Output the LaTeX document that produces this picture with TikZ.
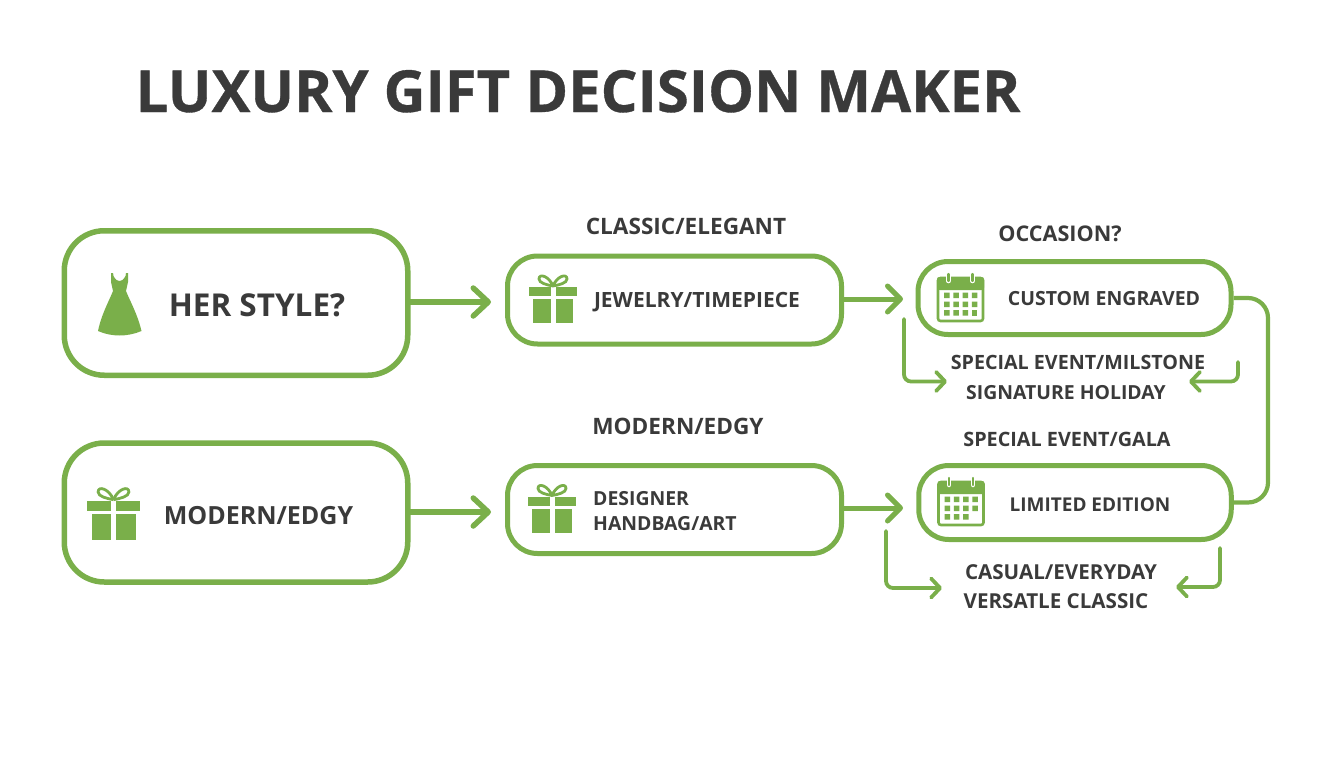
\documentclass[tikz,border=0pt]{standalone}
\usepackage{fontspec}
\setmainfont{Open Sans}
\usetikzlibrary{arrows.meta}
\definecolor{leaf}{HTML}{7AAF4A}
\definecolor{ink}{HTML}{3A3A3A}
\tikzset{
  boxbig/.style={draw=leaf, line width=5.5pt, fill=white, rounded corners=40pt, inner sep=0pt},
  boxsmall/.style={draw=leaf, line width=5pt, fill=white, rounded corners=30pt, inner sep=0pt},
  txt/.style={text=ink, inner sep=0pt, anchor=base, font=\bfseries\fontsize{#1}{#1}\selectfont},
  flowbig/.style={draw=leaf, line width=5.5pt, line cap=round, -{Straight Barb[length=15pt,width=28pt,line width=5.5pt,round]}},
  flowmid/.style={draw=leaf, line width=5pt, line cap=round, -{Straight Barb[length=13pt,width=26pt,line width=5pt,round]}},
  flowsmall/.style={draw=leaf, line width=3.8pt, line cap=round, rounded corners=7pt, -{Straight Barb[length=9pt,width=19pt,line width=3.8pt,round]}},
  pics/dresspic/.style={code={
    \fill[leaf] (-8.5,-31) -- (-6.5,-31) -- (-6,-28) .. controls (-4,-24) and (-2,-23) .. (0,-23)
      .. controls (2,-23) and (4,-24) .. (6,-28) -- (6.5,-31) -- (8.5,-31) -- (8.5,-22) -- (6.5,-13)
      .. controls (10,-4) and (18,10) .. (22,27) .. controls (8,33) and (-8,33) .. (-21.5,27)
      .. controls (-18,10) and (-10,-4) .. (-6.5,-13) -- (-8.5,-22) -- cycle;
  }},
  pics/giftpic/.style={code={
    \fill[leaf] (-24,-12) rectangle (-2.5,-3);
    \fill[leaf] (2.5,-12) rectangle (24,-3);
    \fill[leaf] (-20,0) rectangle (-2.5,24);
    \fill[leaf] (2.5,0) rectangle (20,24);
    \draw[leaf, line width=2.8pt] (0,-13) .. controls (-4,-23) and (-14,-26) .. (-14,-20) .. controls (-14,-16) and (-6,-14) .. (0,-13);
    \draw[leaf, line width=2.8pt] (0,-13) .. controls (4,-23) and (14,-26) .. (14,-20) .. controls (14,-16) and (6,-14) .. (0,-13);
  }},
  pics/calpic/.style={code={
    \draw[leaf, line width=2.6pt, rounded corners=2.5pt] (-22.5,-21) rectangle (22.5,22);
    \fill[leaf, rounded corners=2.5pt] (-23.5,-22) rectangle (23.5,-9);
    \draw[white, line width=4.5pt, line cap=round] (-12,-24) -- (-12,-18);
    \draw[white, line width=4.5pt, line cap=round] (12,-24) -- (12,-18);
    \draw[leaf, line width=2.2pt, line cap=round] (-12,-25) -- (-12,-18);
    \draw[leaf, line width=2.2pt, line cap=round] (12,-25) -- (12,-18);
    \fill[leaf] (-16.5,-6.3) rectangle +(5.5,5.5) (-7.2,-6.3) rectangle +(5.5,5.5) (2.1,-6.3) rectangle +(5.5,5.5) (11.4,-6.3) rectangle +(5.5,5.5);
    \fill[leaf] (-16.5,2.5) rectangle +(5.5,5.5) (-7.2,2.5) rectangle +(5.5,5.5) (2.1,2.5) rectangle +(5.5,5.5) (11.4,2.5) rectangle +(5.5,5.5);
    \fill[leaf] (-16.5,11) rectangle +(5.5,5.5) (-7.2,11) rectangle +(5.5,5.5) (2.1,11) rectangle +(5.5,5.5);
  }},
}
\begin{document}
\begin{tikzpicture}[x=1pt,y=-1pt]
\useasboundingbox (0,0) rectangle (1344,768);
\node[txt=58] (title) at (578,112){\addfontfeature{FakeBold=0.6}LUXURY GIFT DECISION MAKER};

% boxes
\node[boxbig, minimum width=343.5pt, minimum height=144.5pt] (box0) at (236,303){};
\node[boxbig, minimum width=343.5pt, minimum height=139pt] (box1) at (236,512.5){};
\node[boxsmall, minimum width=334pt, minimum height=88pt] (box2) at (674.5,300){};
\node[boxsmall, minimum width=334pt, minimum height=88pt] (box3) at (674.5,509.5){};
\node[boxsmall, minimum width=313pt, minimum height=73pt] (box4) at (1074.5,298){};
\node[boxsmall, minimum width=312.5pt, minimum height=74pt] (box5) at (1075,502.5){};

% icons
\pic at (119.5,304) {dresspic};
\pic at (553,299) {giftpic};
\pic[scale=1.1] at (113.5,514) {giftpic};
\pic at (552,508.5) {giftpic};
\pic at (960.5,299) {calpic};
\fill[leaf] (971.9,310) rectangle +(5.5,5.5);
\pic at (961,503) {calpic};

% texts in boxes
\node[txt=31.5] (lab0) at (257,316){HER STYLE?};
\node[txt=25] (lab1) at (258.5,524){MODERN/EDGY};
\node[txt=21] (lab2) at (697,307.5){JEWELRY/TIMEPIECE};
\node[txt=19.4, anchor=west, align=left] (lab3) at (593,511){DESIGNER\\[5pt]HANDBAG/ART};
\node[txt=19.5] (lab4) at (1104,305){CUSTOM ENGRAVED};
\node[txt=19] (lab5) at (1090,511.5){LIMITED EDITION};

% texts outside boxes
\node[txt=22.6] (lab6) at (686,234){CLASSIC/ELEGANT};
\node[txt=22.6] (lab7) at (678,434){MODERN/EDGY};
\node[txt=21.6] (lab8) at (1060,241.5){OCCASION?};
\node[txt=19.7] (lab9) at (1078,369){SPECIAL EVENT/MILSTONE};
\node[txt=19.4] (lab10) at (1066,399){SIGNATURE HOLIDAY};
\node[txt=19.8] (lab11) at (1067,446){SPECIAL EVENT/GALA};
\node[txt=20.6] (lab12) at (1061,579){CASUAL/EVERYDAY};
\node[txt=20.6] (lab13) at (1056,608){VERSATLE CLASSIC};

% free ends
\coordinate (tip0) at (491,302);
\coordinate (tip1) at (491,512);
\coordinate (tip2) at (903,299);
\coordinate (tip3) at (903,508);
\coordinate (tip4) at (947,381.5);
\coordinate (tip5) at (1189,381.5);
\coordinate (tip6) at (942,588);
\coordinate (tip7) at (1176,587);
\coordinate (st4) at (904,319);
\coordinate (st5) at (1238,362);
\coordinate (st6) at (886,531);
\coordinate (st7) at (1220,548);
\coordinate (cor0) at (1268,298);
\coordinate (cor1) at (1268,502.5);

% connectors
\draw[flowbig](box0.east |- tip0) -- (tip0);
\draw[flowbig](box1.east |- tip1) -- (tip1);
\draw[flowmid](box2.east |- tip2) -- (tip2);
\draw[flowmid](box3.east |- tip3) -- (tip3);
\draw[flowsmall](st4) |- (tip4);
\draw[flowsmall](st5) |- (tip5);
\draw[flowsmall](st6) |- (tip6);
\draw[flowsmall](st7) |- (tip7);
\draw[draw=leaf, line width=4.2pt, rounded corners=20pt](box4.east) -- (cor0) -- (cor1) -- (box5.east);

\end{tikzpicture}
\end{document}
